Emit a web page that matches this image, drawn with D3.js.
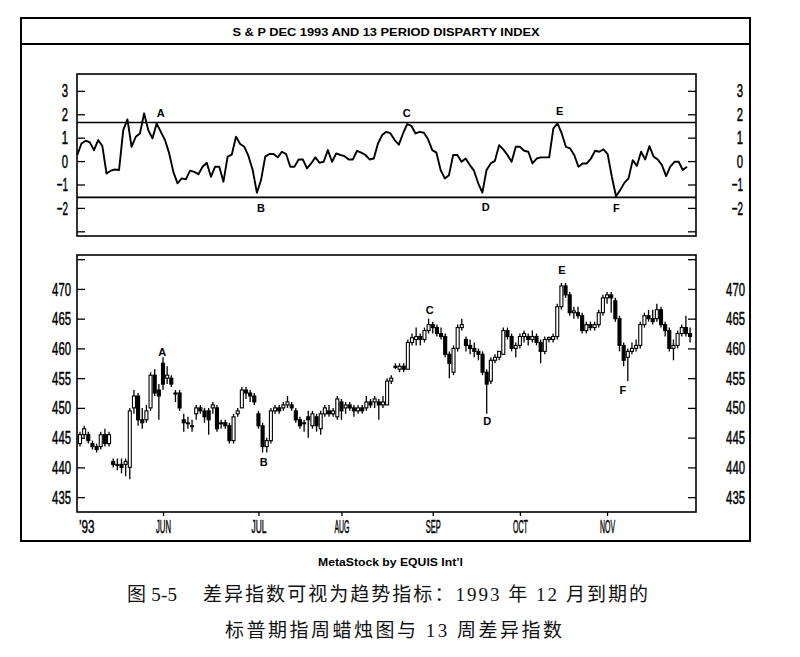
<!DOCTYPE html>
<html><head><meta charset="utf-8">
<script src="https://cdn.jsdelivr.net/npm/d3@7"></script>
<style>body{margin:0;background:#fff} text{white-space:pre}</style>
</head><body><svg id="c" width="800" height="657"></svg>
<script>
// ---- data ----
const opens=[444,445.5,445.5,444,443.5,443.5,445.5,444,441,440.5,440.5,440.5,440,450,452,448,448,450,455.5,453,457.5,455,455,452.5,452.5,448,447.5,447,449,450,449.5,449.5,450,450,447.5,447.5,447,444.5,449,450,453,452.5,452,449,447,443.5,444.5,449.5,450,450,450.5,450.5,449.5,448,447.5,448.5,447,448.5,446.5,449,449.5,449,448.5,451,450,450.5,450,449.5,450,450,451,451,451,450.5,450.5,454.5,457,456.5,457,456.5,461,461.5,462,461.5,463,464,463.5,462.5,462,459,456,460,463.5,461.5,460.5,460,459.5,459,456,454.5,458,458.5,459,463,462,460,460.5,462,462,461.5,462,461,459.5,461.5,461.5,462,467,470.5,469,466,466,465.5,463,464,463.5,464,466,468.5,469,468,465,460.5,458.5,459.5,460,460.5,464,465.5,465,465,466.5,464,463,460,460.5,462.5,463.5,462.5];
const highs=[446,447,446,444.5,444,446,446.5,446,441.5,441.5,441.5,441.5,450,453,452.5,450,450.5,456,456.5,454,458.5,457,455.5,453,453,449,448.5,448,450.5,450.5,450,450,451,450.5,448,448,447.5,449,450,453.5,453.5,453,452.5,449.5,447.5,445,450,450.5,450.5,451,452,451,450,448.5,448,449.5,449.5,449,449.5,450.5,450.5,450,452,451.5,451,451,450.5,450.5,450.5,452,451.5,452,451.5,452,455,455.5,457.5,457.5,457.5,461.5,462.5,463.5,462.5,463.5,465,464.5,464,463.5,462.5,459.5,460.5,464,465,462,461.5,461,460,459.5,456.5,458.5,459,459.5,463.5,463.5,462.5,461,462.5,463,462.5,463,462.5,461.5,462,462,462.5,467.5,471,471,469.5,467,467,466,464.5,464.5,464.5,466.5,469,469.5,469.5,468.5,465.5,461,460,461,461.5,464.5,466,466.5,466.5,467.5,467,464.5,463.5,461.5,463,464,465.5,463.5];
const lows=[443.5,445,444,443,442.5,443,443.5,443.5,440,439.5,439,438.5,438,449,447,446.5,447.5,449.5,452,448,453,454,453.5,451,449.5,446,446.5,446,448,449,447.5,445.5,449,446,446.5,446.5,444,444,448.5,450,451.5,451,450.5,446.5,442.5,442.5,444,449,449,449.5,450,449.5,447.5,446.5,446,445,446.5,446,445.5,448.5,448.5,448.5,448,448,449,449.5,448.5,449,449,449.5,450,450,448,450,450.5,454,456.5,456,456,456.5,460.5,460.5,460.5,461,462.5,462.5,462,461.5,458.5,455,455.5,459.5,463,459.5,459,458.5,458,455.5,449,454,457.5,458,459,461.5,459.5,458.5,460,461,460.5,461,460.5,457.5,459,461,461,461.5,466.5,468.5,465.5,465,465,462.5,462.5,463,463,463.5,465.5,467.5,466,464.5,459.5,457,454.5,459,459.5,460,463.5,464.5,464,464.5,463.5,462,459.5,458,460,462,462,461];
const closes=[445.5,446.5,444.5,443.5,443,445.5,444,445.5,440.5,440.5,440,441,449.5,452,448,447.5,449.5,455.5,452.5,452,454,455.5,454,452.5,450,447.5,447.5,447,450,449.5,448.5,448,450.5,446.5,447.5,447,444.5,448.5,449.5,453,452.5,452,451,447,443.5,444.5,449.5,450,449.5,450.5,451,450,448,447,447.5,448,449,447,449,450,449,449.5,451.5,449.5,450.5,450,449.5,450,449.5,451,450.5,451.5,450.5,451,454.5,455,456.8,457,456.5,461,461.8,462,461.5,463,464,463.5,462.5,462,459,457.5,460,463.5,464,460.5,460,459.5,459,456,454,458,458.5,459.5,463,462,460,460.5,462,462.5,461.5,462,461,459.5,461.5,461.8,462,467,470.5,469,466,466.3,465.5,463,464,463.5,464,466,468.5,469,468.5,465,460.5,458,459.5,460,460.5,464,465.5,465,464.5,466.5,464,463,460,460.5,462.5,463.5,462.5,462];
const disparity=[0.26,0.75,0.87,0.80,0.47,0.90,0.64,-0.53,-0.41,-0.36,-0.38,1.32,1.78,0.61,1.04,1.18,2.04,1.32,0.97,1.61,1.25,0.90,0.33,-0.46,-0.95,-0.74,-0.78,-0.41,-0.46,-0.56,-0.24,-0.07,-0.67,-0.24,-0.24,-0.88,0.19,0.28,1.04,0.73,0.61,0.21,-0.38,-1.35,-0.81,0.19,0.30,0.30,0.16,0.40,0.30,-0.24,-0.24,0.07,0.07,-0.31,-0.10,0.16,-0.07,-0.03,0.47,-0.03,0.33,0.26,0.21,0.07,0.07,0.44,0.36,0.26,0.07,0.11,0.75,1.11,1.25,1.18,0.90,0.70,1.18,1.58,1.50,1.18,1.25,1.21,0.93,0.47,0.36,-0.38,-0.74,-0.60,0.26,0.26,-0.03,0.11,-0.17,-0.41,-0.95,-1.35,-0.38,-0.10,0.01,0.68,0.50,0.26,-0.03,0.61,0.61,0.44,0.40,-0.10,0.11,0.16,0.16,0.16,1.40,1.61,1.18,0.61,0.54,0.26,-0.24,-0.10,-0.10,0.11,0.44,0.40,0.50,0.30,-0.67,-1.50,-1.24,-0.93,-0.74,0.04,-0.21,0.40,0.07,0.64,0.19,0.07,-0.17,-0.64,-0.24,-0.03,-0.03,-0.38,-0.24];
const bands=[1.65,-1.55];
const dispTicks=[-3,-2,-1,0,1,2,3];
const priceTicks=[435,440,445,450,455,460,465,470,475];
const monthLabels=["\u201993","JUN","JUL","AUG","SEP","OCT","NOV"];
const monthIdx=[1.5,20,43,63,85,106,127];
const markLetters=["A","B","C","D","E","F"];
const topMarkIdx=[20,44,78.9,97.8,115.5,129.1];
const topMarkVal=[2.05,-2.0,2.05,-1.97,2.14,-2.0];
const botMarkIdx=[19.8,44.3,84.3,98.1,116.1,130.8];
const botMarkPrice=[459.4,440.9,466.5,447.8,473.2,453];
const title="S & P DEC 1993 AND 13 PERIOD DISPARTY INDEX";
const credit="MetaStock by EQUIS Int\u2019l";
const captionNo="图 5-5";
const caption1="差异指数可视为趋势指标：1993 年 12 月到期的";
const caption2="标普期指周蜡烛图与 13 周差异指数";

// ---- layout ----
const svg=d3.select("#c");
const F_TICK="'Liberation Sans Narrow','Arial Narrow','Liberation Sans',sans-serif";
const F_BOLD="'Liberation Sans',Arial,sans-serif";
const F_CAP="'Liberation Serif','Noto Sans CJK SC',serif";
const P={l:77,r:696};
const TOP={t:74,b:236}, BOT={t:255,b:512};

// outer frame
svg.append("rect").attr("x",21).attr("y",18).attr("width",729).attr("height",523)
  .attr("fill","none").attr("stroke","#000").attr("stroke-width",2);
svg.append("line").attr("x1",21).attr("x2",750).attr("y1",44).attr("y2",44).attr("stroke","#000").attr("stroke-width",2);
svg.append("text").attr("x",386).attr("y",35.5).attr("text-anchor","middle")
  .attr("font-family",F_BOLD).attr("font-weight","bold").attr("font-size",11)
  .attr("textLength",307).attr("lengthAdjust","spacingAndGlyphs").text(title);

// scales
const n=closes.length;
const x=d3.scaleLinear().domain([0,147]).range([80,690.05]);
const xd=d3.scaleLinear().domain([0,disparity.length-1]).range([77.3,687]);
const yd=d3.scaleLinear().domain([-3.2,3.72]).range([TOP.b,TOP.t]);
const yp=d3.scaleLinear().domain([432.5,475.7]).range([BOT.b,BOT.t]);

function panel(p){
  svg.append("rect").attr("x",P.l).attr("y",p.t).attr("width",P.r-P.l).attr("height",p.b-p.t)
    .attr("fill","none").attr("stroke","#000").attr("stroke-width",1.6);
}
panel(TOP); panel(BOT);

// condensed tick text: width per character like the narrow face in the reference
function charW(c){ if(/[0-9]/.test(c)) return 6.3; if(c==="-") return 5; if(c==="\u2019") return 3; return 5; }
function styleAxis(g){
  g.select(".domain").remove();
  g.selectAll("line").attr("stroke","#000").attr("stroke-width",1.3);
  g.selectAll("text").attr("font-family",F_TICK).attr("font-size",19).attr("fill","#000")
    .attr("stroke","#000").attr("stroke-width",0.5)
    .each(function(){
      const t=this.textContent;
      if(t){ d3.select(this).attr("textLength",Array.from(t).reduce((s,c)=>s+charW(c),0)).attr("lengthAdjust","spacingAndGlyphs"); }
    });
}
// top axes
const fmtD=d=>d===-3?"":d3.format("d")(d);
svg.append("g").attr("transform",`translate(${P.l},0)`)
  .call(d3.axisLeft(yd).tickValues(dispTicks).tickSize(-8).tickPadding(9).tickFormat(fmtD)).call(styleAxis);
svg.append("g").attr("transform",`translate(${P.r},0)`)
  .call(d3.axisRight(yd).tickValues(dispTicks).tickSize(-8).tickPadding(9).tickFormat(fmtD)).call(styleAxis)
  .selectAll("text").attr("text-anchor","end").attr("x",47);
// bottom axes
const fmtP=d=>d===475?"":d3.format("d")(d);
svg.append("g").attr("transform",`translate(${P.l},0)`)
  .call(d3.axisLeft(yp).tickValues(priceTicks).tickSize(-8).tickPadding(6).tickFormat(fmtP)).call(styleAxis);
svg.append("g").attr("transform",`translate(${P.r},0)`)
  .call(d3.axisRight(yp).tickValues(priceTicks).tickSize(-8).tickPadding(9).tickFormat(fmtP)).call(styleAxis)
  .selectAll("text").attr("text-anchor","end").attr("x",49);
const xa=svg.append("g").attr("transform",`translate(0,${BOT.b})`)
  .call(d3.axisBottom(x).tickValues(monthIdx).tickSize(4).tickPadding(4).tickFormat((d,i)=>monthLabels[i])).call(styleAxis);
xa.selectAll(".tick").filter((d,i)=>i===0).select("line").remove();

// disparity bands and line
svg.selectAll(".band").data(bands).enter().append("line")
  .attr("x1",P.l).attr("x2",P.r).attr("y1",d=>yd(d)).attr("y2",d=>yd(d))
  .attr("stroke","#000").attr("stroke-width",1.6);
svg.append("path").datum(disparity)
  .attr("d",d3.line().x((d,i)=>xd(i)).y(d=>yd(d)))
  .attr("fill","none").attr("stroke","#000").attr("stroke-width",1.9).attr("stroke-linejoin","round");

// candles
const idx=d3.range(n);
const bw=3;
const g=svg.append("g");
g.selectAll(".wick").data(idx).enter().append("line")
  .attr("x1",i=>x(i)).attr("x2",i=>x(i)).attr("y1",i=>yp(highs[i])).attr("y2",i=>yp(lows[i]))
  .attr("stroke","#000").attr("stroke-width",1.3);
g.selectAll(".body").data(idx).enter().append("rect")
  .attr("x",i=>x(i)-bw/2).attr("width",bw)
  .attr("y",i=>yp(Math.max(opens[i],closes[i])))
  .attr("height",i=>Math.max(1,Math.abs(yp(opens[i])-yp(closes[i]))))
  .attr("fill",i=>closes[i]>=opens[i]?"#fff":"#000")
  .attr("stroke","#000").attr("stroke-width",1.1);

// letter marks
const letter=(sel)=>sel.attr("text-anchor","middle").attr("dominant-baseline","central")
  .attr("font-family",F_BOLD).attr("font-weight","bold").attr("font-size",11).attr("fill","#000");
svg.selectAll(".tm").data(markLetters).enter().append("text")
  .attr("x",(d,i)=>xd(topMarkIdx[i])).attr("y",(d,i)=>yd(topMarkVal[i])).text(d=>d).call(letter);
svg.selectAll(".bm").data(markLetters).enter().append("text")
  .attr("x",(d,i)=>x(botMarkIdx[i])).attr("y",(d,i)=>yp(botMarkPrice[i])).text(d=>d).call(letter);

// captions
svg.append("text").attr("x",318).attr("y",566).attr("text-anchor","start")
  .attr("font-family",F_BOLD).attr("font-weight","bold").attr("font-size",10)
  .attr("textLength",145).attr("lengthAdjust","spacingAndGlyphs").text(credit);
svg.append("text").attr("x",127).attr("y",601)
  .attr("font-family",F_CAP).attr("font-size",19).attr("fill","#111")
  .attr("textLength",50).attr("lengthAdjust","spacing").text(captionNo);
svg.append("text").attr("x",203).attr("y",601)
  .attr("font-family",F_CAP).attr("font-size",19).attr("fill","#111")
  .attr("textLength",445).attr("lengthAdjust","spacing").text(caption1);
svg.append("text").attr("x",225).attr("y",637)
  .attr("font-family",F_CAP).attr("font-size",19).attr("fill","#111")
  .attr("textLength",337).attr("lengthAdjust","spacing").text(caption2);
</script></body></html>
